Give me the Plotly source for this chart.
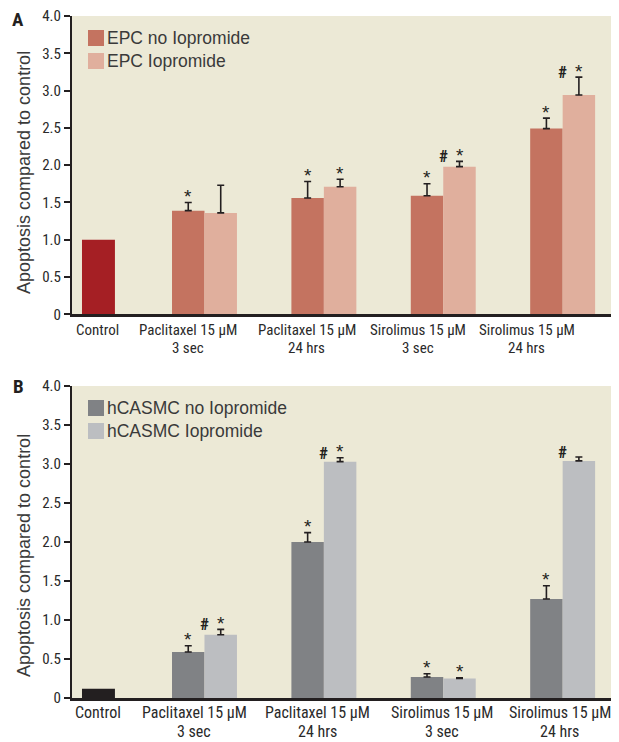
import plotly.graph_objects as go

# ---------------- data ----------------
categories = [
    "Control",
    "Paclitaxel 15 μM<br>3 sec",
    "Paclitaxel 15 μM<br>24 hrs",
    "Sirolimus 15 μM<br>3 sec",
    "Sirolimus 15 μM<br>24 hrs",
]
treatments = categories[1:]

# Panel A (EPC)
a_names = ["EPC no Iopromide", "EPC Iopromide"]
a_control = [1.00]
a_no = [1.39, 1.56, 1.59, 2.49]
a_no_err = [0.11, 0.22, 0.16, 0.14]
a_io = [1.36, 1.71, 1.98, 2.94]
a_io_err = [0.37, 0.10, 0.07, 0.24]
a_no_sig = ["*", "*", "*", "*"]
a_io_sig = ["", "*", "*", "*"]
a_hash = ["", "", "#", "#"]

# Panel B (hCASMC)
b_names = ["hCASMC no Iopromide", "hCASMC Iopromide"]
b_control = [0.12]
b_no = [0.59, 2.00, 0.27, 1.27]
b_no_err = [0.08, 0.12, 0.04, 0.17]
b_io = [0.81, 3.03, 0.25, 3.04]
b_io_err = [0.07, 0.05, 0.01, 0.05]
b_no_sig = ["*", "*", "*", "*"]
b_io_sig = ["*", "*", "*", ""]
b_hash = ["#", "#", "", "#"]

y_tickvals = [0, 0.5, 1.0, 1.5, 2.0, 2.5, 3.0, 3.5, 4.0]
y_ticktext = ["0", "0.5", "1.0", "1.5", "2.0", "2.5", "3.0", "3.5", "4.0"]
y_title = "Apoptosis compared to control"
panel_letters = ["A", "B"]

# ---------------- styling ----------------
OFF = 8  # page body margin
W, H = 619 - OFF, 742 - OFF
ML, MR, MT = 72 - OFF, 0, 16 - OFF
PLOT_BOTTOM = 698 - OFF
MB = H - PLOT_BOTTOM
PW, PH = W - ML - MR, PLOT_BOTTOM - MT

def pxx(px):  # screen pixel -> paper x
    return (px - OFF - ML) / PW

def pxy(py):  # screen pixel -> paper y
    return (PLOT_BOTTOM - (py - OFF)) / PH

BG = "#ECE9D6"
AXC = "#231F20"
TXT = "#3A3A3A"
NARROW = "Liberation Sans Narrow, Roboto Condensed, DejaVu Sans Condensed, sans-serif"
REG = "Liberation Sans, Arial, sans-serif"

panels = [
    dict(xa="x", ya="y", control=a_control, no=a_no, no_err=a_no_err, io=a_io, io_err=a_io_err,
         no_sig=a_no_sig, io_sig=a_io_sig, hsh=a_hash, names=a_names,
         colors=["#A51F24", "#C47360", "#E0AF9D"], dom=[pxy(314.3), 1.0],
         lab_shift=[12, -16, -17, -25, -36], lab_size=15, lab_yshift=-6, lab_lh=18,
         leg_y=[30, 53], title_y=173, letter_y=20),
    dict(xa="x2", ya="y2", control=b_control, no=b_no, no_err=b_no_err, io=b_io, io_err=b_io_err,
         no_sig=b_no_sig, io_sig=b_io_sig, hsh=b_hash, names=b_names,
         colors=["#231F20", "#808285", "#BCBEC1"], dom=[0.0, pxy(386)],
         lab_shift=[13, -10, -6, -1, -3], lab_size=16, lab_yshift=-4, lab_lh=19.3,
         leg_y=[400, 423], title_y=556, letter_y=386),
]

BW = 0.272
fig = go.Figure()
annotations = []
shapes = []

for k, p in enumerate(panels):
    err_style = dict(type="data", symmetric=False, color=AXC, thickness=1.6, width=3.5)
    fig.add_trace(go.Bar(x=[categories[0]], y=p["control"], xaxis=p["xa"], yaxis=p["ya"],
                         marker=dict(color=p["colors"][0], line=dict(width=0)),
                         width=0.276, offset=-0.026, showlegend=False))
    fig.add_trace(go.Bar(x=treatments, y=p["no"], name=p["names"][0], xaxis=p["xa"], yaxis=p["ya"],
                         marker=dict(color=p["colors"][1], line=dict(width=0)),
                         width=BW, offset=-BW, showlegend=False,
                         error_y=dict(array=p["no_err"], arrayminus=[0] * 4, **err_style)))
    fig.add_trace(go.Bar(x=treatments, y=p["io"], name=p["names"][1], xaxis=p["xa"], yaxis=p["ya"],
                         marker=dict(color=p["colors"][2], line=dict(width=0)),
                         width=BW, offset=0, showlegend=False,
                         error_y=dict(array=p["io_err"], arrayminus=[0] * 4, **err_style)))

    star_font = dict(family=REG, size=19, color=AXC)
    hash_font = dict(family=NARROW, size=17, color=AXC)
    for i in range(4):
        top_no = p["no"][i] + p["no_err"][i]
        top_io = p["io"][i] + p["io_err"][i]
        if p["no_sig"][i]:
            annotations.append(dict(x=i + 1 - BW / 2, y=top_no, xref=p["xa"], yref=p["ya"],
                                    text=p["no_sig"][i], showarrow=False, yanchor="middle",
                                    yshift=6, font=star_font))
        if p["io_sig"][i]:
            annotations.append(dict(x=i + 1 + BW / 2, y=top_io, xref=p["xa"], yref=p["ya"],
                                    text=p["io_sig"][i], showarrow=False, yanchor="middle",
                                    yshift=6, font=star_font))
        if p["hsh"][i]:
            annotations.append(dict(x=i + 1, y=top_io, xref=p["xa"], yref=p["ya"],
                                    text="<b>" + p["hsh"][i] + "</b>", showarrow=False,
                                    yanchor="middle", yshift=5, font=hash_font))

    # category labels (one annotation per line for tight line spacing)
    for i, c in enumerate(categories):
        for j, line in enumerate(c.split("<br>")):
            annotations.append(dict(x=i, y=0, xref=p["xa"], yref=p["ya"], text=line,
                                    showarrow=False, xanchor="center", yanchor="top",
                                    xshift=p["lab_shift"][i], borderpad=0,
                                    yshift=p["lab_yshift"] - j * p["lab_lh"],
                                    font=dict(family=NARROW, size=p["lab_size"], color="#2A2A2A")))

    # legend (manual squares + series names)
    for j in range(2):
        y0 = p["leg_y"][j]
        shapes.append(dict(type="rect", xref="paper", yref="paper",
                           x0=pxx(88), x1=pxx(104), y0=pxy(y0 + 16), y1=pxy(y0),
                           fillcolor=p["colors"][j + 1], line=dict(width=0)))
        annotations.append(dict(x=pxx(105), y=pxy(y0 + 8), xref="paper", yref="paper",
                                text=p["names"][j], showarrow=False, xanchor="left",
                                yanchor="middle", font=dict(family=REG, size=17.5, color=TXT)))

    annotations.append(dict(x=pxx(24), y=pxy(p["title_y"]), xref="paper", yref="paper",
                            text=y_title, textangle=-90, showarrow=False, xanchor="center",
                            yanchor="middle", font=dict(family=REG, size=18, color=TXT)))
    annotations.append(dict(x=pxx(18), y=pxy(p["letter_y"]), xref="paper", yref="paper",
                            text="<b>" + panel_letters[k] + "</b>", showarrow=False,
                            xanchor="center", yanchor="middle",
                            font=dict(family=NARROW, size=19, color=AXC)))

xcommon = dict(type="category", categoryorder="array", categoryarray=categories,
               range=[-0.1097, 4.472], showticklabels=False, ticks="", showgrid=False,
               zeroline=False, showline=True, linecolor=AXC, linewidth=2.5, fixedrange=True)
ycommon = dict(range=[0, 4.0], tickmode="array", tickvals=y_tickvals, ticktext=y_ticktext,
               ticks="outside", ticklen=6, tickwidth=1.5, tickcolor=AXC, showgrid=False,
               zeroline=False, showline=True, linecolor=AXC, linewidth=2.2,
               ticklabeloverflow="allow",
               tickfont=dict(family=NARROW, size=15, color="#2A2A2A"))

fig.update_layout(
    width=W, height=H,
    margin=dict(l=ML, r=MR, t=MT, b=MB, pad=0),
    paper_bgcolor="white", plot_bgcolor=BG,
    barmode="overlay", showlegend=False,
    xaxis=dict(anchor="y", domain=[0, 1], **xcommon),
    xaxis2=dict(anchor="y2", domain=[0, 1], **xcommon),
    yaxis=dict(anchor="x", domain=panels[0]["dom"], **ycommon),
    yaxis2=dict(anchor="x2", domain=panels[1]["dom"], **ycommon),
    annotations=annotations, shapes=shapes,
)

fig.write_html("out.html")
